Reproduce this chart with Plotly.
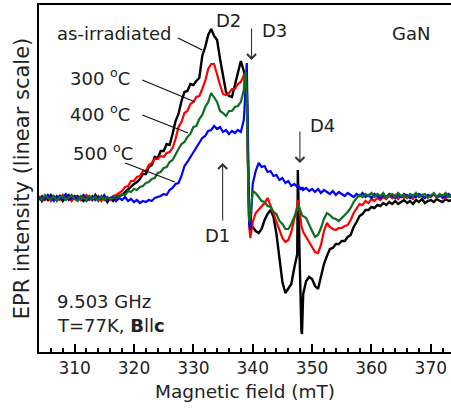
import numpy as np
import plotly.graph_objects as go

# Field sweep (mT): coarse 0.5 mT steps, finer sampling through the D3 and D4 lines
field_segments = [(304.0, 338.5, 70), (338.6, 340.0, 8), (340.5, 347.5, 15),
                  (347.6, 348.4, 9), (348.5, 373.5, 51)]
field = np.round(np.concatenate([np.linspace(a, b, n) for a, b, n in field_segments]), 2)

# EPR derivative signal, arbitrary units
as_irradiated = [
    2, -3, 1, -2, 3, 0, -1, 2, -3, 1, 3, -2, 0, 2, -1, -3, 2, 1, -2, 3,
    -1, 0, 1, -4, 0, -3, 1, 2, 3, 6, 9, 12, 14, 16, 19, 24, 24, 31, 33, 41,
    40, 47, 47, 54, 53, 64, 77, 84, 97, 106, 107, 114, 113, 117, 120, 142, 151, 163, 169, 162,
    158, 139, 123, 106, 102, 101, 113, 124, 137, 127,
    122, 118, 108, 40, -20, -27, -31, -29,
    -33, -35, -31, -22, -16, -12, -19, -36, -58, -84, -95, -91, -86, -70, -56,
    28, 10, -25, -60, -95, -120, -133, -136, -115,
    -96, -83, -79, -81, -88, -91, -79, -66, -58, -51, -50, -46, -46, -43, -43, -39, -37, -29, -24, -18,
    -16, -12, -12, -9, -10, -7, -8, -5, -7, -4, -6, -3, -6, -4, -2, -5, -3, -6, -2, -4,
    -1, -5, -3, -2, -4, -1, -3, -4, -1, -3, -2,
]
annealed_300 = [
    -1, 2, -2, 1, -3, 2, 0, -2, 3, -1, 1, -3, 2, 0, -2, 1, 3, -2, 0, -1,
    2, -3, 1, 0, -2, 2, 3, 5, 7, 11, 12, 17, 17, 21, 22, 27, 27, 33, 35, 39,
    39, 42, 41, 45, 46, 50, 59, 71, 76, 85, 87, 94, 96, 101, 102, 109, 117, 129, 134, 134,
    123, 113, 104, 103, 105, 109, 109, 114, 116, 122,
    124, 121, 110, 35, -28, -40, -33, -24,
    -15, -12, -9, -5, 0, -7, -15, -24, -33, -40, -44, -42, -34, -22, -8,
    -2, -4, -9, -15, -20, -25, -28, -30, -32,
    -34, -39, -44, -50, -54, -55, -47, -33, -25, -29, -31, -32, -30, -30, -28, -27, -22, -15, -10, -6,
    -7, -3, -5, -1, -3, 0, -2, 1, -1, 2, 0, 3, -1, 2, 0, 3, 1, -1, 4, 1,
    2, 0, 3, 1, 4, 0, 2, 3, 0, 2, 1,
]
annealed_400 = [
    1, -2, 3, 0, -1, 2, -3, 1, 2, -2, 0, 3, -1, -3, 2, 0, -2, 2, -1, 1,
    -3, 2, -2, 1, -1, 0, 2, 1, 4, 3, 7, 6, 9, 8, 11, 12, 15, 16, 19, 20,
    25, 26, 30, 31, 36, 38, 44, 49, 54, 56, 61, 64, 71, 72, 79, 83, 91, 96, 105, 100,
    96, 87, 85, 82, 87, 87, 91, 92, 96, 108,
    120, 126, 102, 28, -24, -18, 0, 7,
    5, 1, -3, -4, -8, -9, -14, -16, -23, -26, -31, -31, -26, -19, -12,
    -8, -6, -9, -11, -13, -15, -16, -17, -18,
    -18, -20, -27, -33, -39, -37, -30, -21, -15, -17, -20, -21, -23, -20, -18, -14, -10, -4, 0, 3,
    1, 4, 2, 5, 1, 4, 2, 5, 0, 3, 4, 1, 5, 2, 3, 0, 4, 2, 5, 1,
    3, 4, 0, 3, 5, 1, 4, 2, 5, 1, 3,
]
annealed_500 = [
    -2, 1, -1, 3, 0, -3, 2, -1, 1, 4, -2, 0, 2, -2, 1, 3, -3, 0, 2, -2,
    1, -1, 3, -2, 0, 1, -3, 0, -2, 1, -3, -1, -4, -2, -5, -3, -4, -2, -3, 0,
    1, 2, 4, 3, 8, 10, 14, 15, 22, 32, 36, 41, 45, 51, 55, 60, 62, 67, 68, 72,
    69, 71, 66, 68, 64, 67, 65, 68, 66, 78,
    88, 112, 135, 60, -25, -32, -5, 14,
    27, 35, 31, 32, 26, 27, 22, 23, 18, 20, 15, 17, 12, 14, 11,
    13, 10, 12, 9, 11, 8, 10, 9, 11,
    8, 10, 7, 9, 6, 9, 5, 8, 6, 4, 7, 3, 6, 4, 2, 5, 3, 1, 4, 2,
    5, 1, 3, 0, 4, 2, 0, 3, 1, 4, 2, 0, 3, 1, 4, 2, 0, 3, 1, 4,
    2, 0, 3, 2, 4, 1, 3, 0, 2, 4, 1,
]

series = [
    ("as-irradiated", as_irradiated, "#000000", 2.4),
    ("300 °C", annealed_300, "#ff0000", 2.2),
    ("500 °C", annealed_500, "#0000ff", 2.2),
    ("400 °C", annealed_400, "#0f6e1e", 2.2),
]

FONT = "DejaVu Sans"
TXT = "#222222"

fig = go.Figure()
for name, vals, color, lw in series:
    assert len(vals) == len(field), (name, len(vals), len(field))
    fig.add_trace(go.Scatter(x=field, y=vals, mode="lines", name=name,
                             line=dict(color=color, width=lw), showlegend=False))

# Sample labels with leader lines to their curves
sample_labels = [
    ("as-irradiated", 316.6, 165, (327.4, 160, 331.5, 148)),
    ("300 <sup>o</sup>C", 314.3, 121, (321.4, 118, 330.3, 96)),
    ("400 <sup>o</sup>C", 314.3, 85, (321.4, 83, 329.1, 65)),
    ("500 <sup>o</sup>C", 314.8, 46, (318.5, 35, 326.9, 16)),
]
annotations = []
shapes = []
for text, x, y, (x0, y0, x1, y1) in sample_labels:
    annotations.append(dict(x=x, y=y, text=text, showarrow=False,
                            font=dict(family=FONT, size=18, color=TXT)))
    shapes.append(dict(type="line", x0=x0, y0=y0, x1=x1, y1=y1,
                       line=dict(color="#111111", width=1.2)))

# Defect line labels
for text, x, y in [("D2", 336.0, 178), ("D3", 343.7, 168), ("D4", 351.7, 73),
                   ("D1", 334.1, -37), ("GaN", 366.6, 165)]:
    annotations.append(dict(x=x, y=y, text=text, showarrow=False,
                            font=dict(family=FONT, size=18, color=TXT)))

# Arrows pointing at the lines
for x, y_tail, y_tip in [(339.8, 171, 138), (347.95, 68, 35), (334.93, -24, 35)]:
    annotations.append(dict(x=x, y=y_tip, ax=x, ay=y_tail, xref="x", yref="y",
                            axref="x", ayref="y", text="", showarrow=True,
                            arrowhead=4, arrowsize=1.6, arrowwidth=1.1,
                            arrowcolor="#333333"))

# Measurement conditions
annotations.append(dict(x=306.7, y=-103, text="9.503 GHz", showarrow=False,
                        xanchor="left", font=dict(family=FONT, size=18, color=TXT)))
annotations.append(dict(x=306.7, y=-127, text="T=77K, <b>B</b>ll<b>c</b>",
                        showarrow=False, xanchor="left",
                        font=dict(family=FONT, size=18, color=TXT)))

fig.update_layout(
    width=451, height=410,
    margin=dict(l=39, r=0, t=5, b=58),
    paper_bgcolor="white", plot_bgcolor="white",
    annotations=annotations, shapes=shapes,
    font=dict(family=FONT, color=TXT),
)
fig.update_xaxes(
    range=[304.0, 373.4], showgrid=False, zeroline=False,
    showline=True, linecolor="black", linewidth=2, mirror=True,
    ticks="inside", ticklen=8, tickwidth=2, tickcolor="black",
    tickvals=[310, 320, 330, 340, 350, 360, 370],
    minor=dict(dtick=2, ticks="inside", ticklen=4.5, tickwidth=2, tickcolor="black"),
    tickfont=dict(family=FONT, size=17, color=TXT),
    title=dict(text="Magnetic field (mT)", font=dict(family=FONT, size=18.5, color=TXT),
               standoff=8),
)
fig.update_yaxes(
    range=[-154, 193], showgrid=False, zeroline=False,
    showline=True, linecolor="black", linewidth=2, mirror=False,
    ticks="", showticklabels=False,
    title=dict(text="EPR intensity (linear scale)",
               font=dict(family=FONT, size=21, color=TXT), standoff=2),
)

fig.write_html("out.html")
